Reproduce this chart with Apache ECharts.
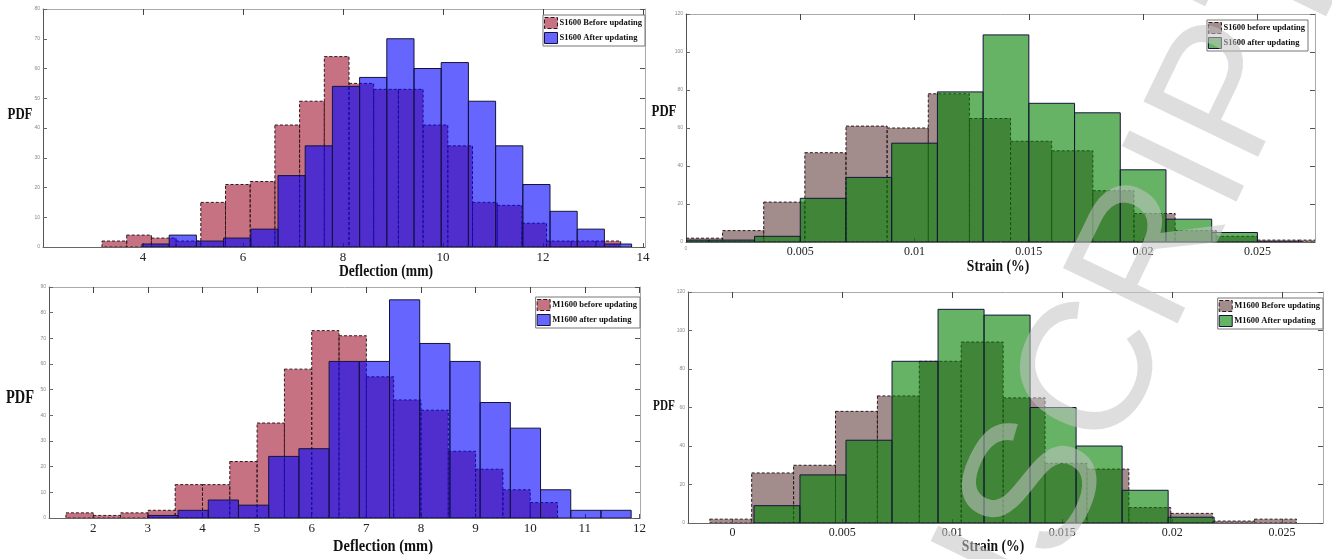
<!DOCTYPE html>
<html>
<head>
<meta charset="utf-8">
<title>PDF of deflection and strain, before / after updating</title>
<script src="https://cdn.jsdelivr.net/npm/echarts@6.0.0/dist/echarts.min.js"></script>
<style>
  html, body { margin: 0; padding: 0; background: #fff; }
  #chart { width: 1332px; height: 559px; }
</style>
</head>
<body>
<div id="chart"></div>
<script>
// ---- data: every histogram = first bin edge, bin width, counts ----
// S1600, deflection (mm)
const s1600DefBeforeStart = 3.18;
const s1600DefBeforeWidth = 0.494;
const s1600DefBefore = [2, 4, 3, 2, 15, 21, 22, 41, 49, 64, 55, 53, 53, 41, 34, 15, 14, 8, 2, 2, 2];
const s1600DefAfterStart = 3.98;
const s1600DefAfterWidth = 0.544;
const s1600DefAfter = [1, 4, 2, 3, 6, 24, 34, 54, 57, 70, 60, 62, 49, 34, 21, 12, 6, 1];

// S1600, strain (%)
const s1600StrBeforeStart = -0.0002;
const s1600StrBeforeWidth = 0.0018;
const s1600StrBefore = [2, 6, 21, 47, 61, 60, 78, 65, 53, 48, 27, 15, 6, 3, 1, 1];
const s1600StrAfterStart = -0.001;
const s1600StrAfterWidth = 0.002;
const s1600StrAfter = [1, 1, 3, 23, 34, 52, 79, 109, 73, 68, 38, 12, 5, 0];

// M1600, deflection (mm)
const m1600DefBeforeStart = 1.5;
const m1600DefBeforeWidth = 0.5;
const m1600DefBefore = [2, 1, 2, 3, 13, 13, 22, 37, 58, 73, 71, 55, 46, 42, 26, 19, 11, 6];
const m1600DefAfterStart = 3.0;
const m1600DefAfterWidth = 0.553;
const m1600DefAfter = [1, 3, 7, 5, 24, 27, 61, 61, 85, 68, 61, 45, 35, 11, 3, 3];

// M1600, strain (%)
const m1600StrBeforeStart = -0.00103;
const m1600StrBeforeWidth = 0.001906;
const m1600StrBefore = [2, 26, 30, 58, 66, 84, 94, 65, 31, 28, 8, 5, 1, 2];
const m1600StrAfterStart = 0.00098;
const m1600StrAfterWidth = 0.002093;
const m1600StrAfter = [9, 25, 43, 84, 111, 108, 60, 40, 17, 3];

// tick labels
const s1600DefTicks = [4, 6, 8, 10, 12, 14];
const m1600DefTicks = [2, 3, 4, 5, 6, 7, 8, 9, 10, 11, 12];
const strainTicks = [0, 0.005, 0.01, 0.015, 0.02, 0.025];

// bins -> [x0, x1, count]
function toBins (start, width, counts) {
  return counts.map((c, i) => [start + i * width, start + (i + 1) * width, c]);
}

const SERIF = "'Liberation Serif', 'DejaVu Serif', serif";

// MATLAB-like faces with 0.6 alpha
const RED = 'rgba(162,20,47,0.6)';
const BLUE = 'rgba(0,0,255,0.6)';
const MAUVE = 'rgba(102,64,64,0.6)';
const GREEN = 'rgba(0,128,0,0.6)';

const panels = [
  {
    grid: { left: 43, top: 9, width: 602, height: 238 },
    xMin: 2, xMax: 14.04, yMax: 80, yStep: 10, ticks: s1600DefTicks, labelSize: 13,
    before: { name: 'S1600 Before updating', bins: toBins(s1600DefBeforeStart, s1600DefBeforeWidth, s1600DefBefore), fill: RED },
    after: { name: 'S1600 After updating', bins: toBins(s1600DefAfterStart, s1600DefAfterWidth, s1600DefAfter), fill: BLUE },
    legend: { right: 687, top: 15 }
  },
  {
    grid: { left: 686, top: 14, width: 629, height: 228 },
    xMin: 0, xMax: 0.02752, yMax: 120, yStep: 20, ticks: strainTicks, labelSize: 12, tinyZero: true,
    before: { name: 'S1600 before updating', bins: toBins(s1600StrBeforeStart, s1600StrBeforeWidth, s1600StrBefore), fill: MAUVE },
    after: { name: 'S1600 after updating', bins: toBins(s1600StrAfterStart, s1600StrAfterWidth, s1600StrAfter), fill: GREEN },
    legend: { right: 24, top: 20 }
  },
  {
    grid: { left: 49, top: 287, width: 591, height: 231 },
    xMin: 1.19, xMax: 12.01, yMax: 90, yStep: 10, ticks: m1600DefTicks, labelSize: 13,
    before: { name: 'M1600 before updating', bins: toBins(m1600DefBeforeStart, m1600DefBeforeWidth, m1600DefBefore), fill: RED },
    after: { name: 'M1600 after updating', bins: toBins(m1600DefAfterStart, m1600DefAfterWidth, m1600DefAfter), fill: BLUE },
    legend: { right: 692, top: 297 }
  },
  {
    grid: { left: 688, top: 292, width: 635, height: 231 },
    xMin: -0.00202, xMax: 0.02686, yMax: 120, yStep: 20, ticks: strainTicks, labelSize: 12,
    before: { name: 'M1600 Before updating', bins: toBins(m1600StrBeforeStart, m1600StrBeforeWidth, m1600StrBefore), fill: MAUVE },
    after: { name: 'M1600 After updating', bins: toBins(m1600StrAfterStart, m1600StrAfterWidth, m1600StrAfter), fill: GREEN },
    legend: { right: 9, top: 298 }
  }
];

// one rect per bin, through the axes
function histRender (style) {
  return function (params, api) {
    const a = api.coord([api.value(0), api.value(2)]);
    const b = api.coord([api.value(1), 0]);
    const cs = params.coordSys;
    const shape = echarts.graphic.clipRectByRect(
      { x: a[0], y: a[1], width: b[0] - a[0], height: b[1] - a[1] },
      { x: cs.x, y: cs.y - 1, width: cs.width, height: cs.height + 2 }
    );
    if (!shape) return null;
    return { type: 'rect', shape: shape, style: style };
  };
}

const grids = [], xAxes = [], yAxes = [], series = [], legends = [];

panels.forEach((p, i) => {
  grids.push(Object.assign({ show: false }, p.grid));

  // bottom axis with labels
  xAxes.push({
    type: 'value', gridIndex: i, min: p.xMin, max: p.xMax, position: 'bottom',
    splitLine: { show: false },
    axisLine: { show: true, onZero: false, lineStyle: { color: '#666', width: 1 } },
    axisTick: { show: true, inside: true, length: 4, customValues: p.ticks, lineStyle: { color: '#555' } },
    axisLabel: {
      customValues: p.ticks, margin: 4, color: '#222', fontFamily: SERIF, fontSize: p.labelSize,
      formatter: v => (p.tinyZero && v === 0) ? '{s|0}' : String(v),
      rich: { s: { fontSize: 5, color: '#999', fontFamily: 'Arial' } }
    }
  });
  // top frame with ticks
  xAxes.push({
    type: 'value', gridIndex: i, min: p.xMin, max: p.xMax, position: 'top',
    splitLine: { show: false },
    axisLine: { show: true, onZero: false, lineStyle: { color: '#aaa', width: 1 } },
    axisTick: { show: true, inside: true, length: 6, customValues: p.ticks, lineStyle: { color: '#444' } },
    axisLabel: { show: false }
  });
  // left axis, tiny labels
  yAxes.push({
    type: 'value', gridIndex: i, min: 0, max: p.yMax, interval: p.yStep, position: 'left',
    splitLine: { show: false },
    axisLine: { show: true, onZero: false, lineStyle: { color: '#555', width: 1 } },
    axisTick: { show: true, inside: true, length: 4, lineStyle: { color: '#666' } },
    axisLabel: { margin: 3, fontSize: 5, color: '#888', fontFamily: 'Arial' }
  });
  // right frame with ticks
  yAxes.push({
    type: 'value', gridIndex: i, min: 0, max: p.yMax, interval: p.yStep, position: 'right',
    splitLine: { show: false },
    axisLine: { show: true, onZero: false, lineStyle: { color: '#aaa', width: 1 } },
    axisTick: { show: true, inside: true, length: 5, lineStyle: { color: '#555' } },
    axisLabel: { show: false }
  });

  const beforeStyle = { fill: p.before.fill, stroke: '#2a1a1e', lineWidth: 1, lineDash: [3, 2] };
  const afterStyle = { fill: p.after.fill, stroke: '#14143a', lineWidth: 1 };

  series.push({
    type: 'custom', name: p.before.name, xAxisIndex: 2 * i, yAxisIndex: 2 * i,
    encode: { x: [0, 1], y: 2 }, data: p.before.bins, clip: true, silent: true,
    itemStyle: { color: p.before.fill, borderColor: '#2a1a1e', borderWidth: 1, borderType: 'dashed' },
    renderItem: histRender(beforeStyle), z: 2
  });
  series.push({
    type: 'custom', name: p.after.name, xAxisIndex: 2 * i, yAxisIndex: 2 * i,
    encode: { x: [0, 1], y: 2 }, data: p.after.bins, clip: true, silent: true,
    itemStyle: { color: p.after.fill, borderColor: '#14143a', borderWidth: 1 },
    renderItem: histRender(afterStyle), z: 3
  });

  legends.push(Object.assign({
    orient: 'vertical',
    itemWidth: 13, itemHeight: 11, itemGap: 3, padding: [2, 3, 2, 1],
    backgroundColor: '#fff', borderColor: '#777', borderWidth: 1, borderRadius: 0,
    selectedMode: false, icon: 'rect',
    textStyle: { fontFamily: SERIF, fontWeight: 'bold', fontSize: 8.5, color: '#111', padding: [0, 0, 0, -3] },
    data: [
      { name: p.before.name, itemStyle: { color: p.before.fill, borderColor: '#2a1a1e', borderWidth: 1, borderType: 'dashed' } },
      { name: p.after.name, itemStyle: { color: p.after.fill, borderColor: '#14143a', borderWidth: 1 } }
    ]
  }, p.legend));
});

// axis titles
function label (text, cx, cy, size, sx) {
  return {
    type: 'text', x: cx, y: cy, scaleX: sx || 1, z: 10,
    style: { text: text, font: 'bold ' + size + 'px ' + SERIF, fill: '#111', align: 'center', verticalAlign: 'middle' }
  };
}

// page watermark running diagonally over the right half
const WM_X = 1013, WM_Y = 546, WM_ROT = 1.12;
function watermark (text, align) {
  return {
    type: 'text', x: WM_X, y: WM_Y, rotation: WM_ROT, z: 100, silent: true,
    style: { text: text, font: '185px "Liberation Sans", sans-serif', fill: 'rgba(195,195,195,0.55)', align: align, verticalAlign: 'middle' }
  };
}

const graphics = [
  label('PDF', 20, 115, 16, 0.8),
  label('Deflection (mm)', 386, 272, 16, 0.85),
  label('PDF', 664, 112, 16, 0.8),
  label('Strain (%)', 998, 267, 16, 0.85),
  label('PDF', 20, 398, 18, 0.8),
  label('Deflection (mm)', 383, 547, 17, 0.85),
  label('PDF', 664, 406, 14, 0.8),
  label('Strain (%)', 993, 547, 16, 0.85),
  watermark('ACCEPTED MANU', 'right'),
  watermark('SCRIPT', 'left')
];

const chart = echarts.init(document.getElementById('chart'), null, { renderer: 'canvas' });
chart.setOption({
  backgroundColor: '#fff',
  animation: false,
  grid: grids,
  xAxis: xAxes,
  yAxis: yAxes,
  legend: legends,
  series: series,
  graphic: graphics
});
</script>
</body>
</html>
